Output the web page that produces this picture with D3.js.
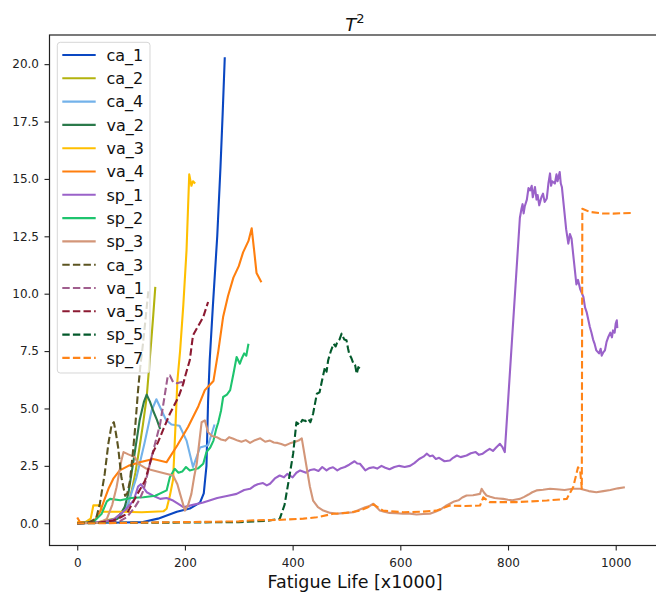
<!DOCTYPE html>
<html>
<head>
<meta charset="utf-8">
<script src="https://cdn.jsdelivr.net/npm/d3@7"></script>
<style>
  body { margin: 0; background: #ffffff; }
  svg { display: block; font-family: 'DejaVu Sans', sans-serif; }
</style>
</head>
<body>
<svg id="chart" width="656" height="598"></svg>
<script>
// Series values: [fatigue life (x1000), T^2]
const ca_1 = [[0,0],[85,0.03],[122,0.05],[150,0.2],[185,0.5],[209,0.64],[228,0.9],[235,1.3],[240,2.5],[243,5.3],[246,7.1],[252,9.5],[260,12.5],[266,15.5],[270,17.8],[274,20.3]];
const ca_2 = [[0,0.02],[40,0.05],[70,0.2],[85,0.5],[92,0.6],[101,1.4],[108,2.2],[115,3.2],[122,4.3],[129,5.5],[137,7.8],[141,9.0],[145,10.3]];
const ca_4 = [[0,0],[60,0.05],[80,0.3],[95,0.9],[110,2.0],[125,3.5],[138,4.9],[147,5.4],[155,5.0],[165,4.5],[175,4.3],[190,4.25],[203,3.6],[215,2.45],[228,3.3],[243,3.4],[255,4.3]];
const va_2 = [[0,0],[50,0.02],[75,0.2],[88,0.7],[95,1.3],[105,2.8],[116,4.5],[124,5.3],[129,5.6],[135,5.3],[141,4.9],[148,4.5],[154,4.1]];
const va_3 = [[0,0.05],[15,0.05],[25,0.2],[30,0.78],[42,0.78],[48,0.5],[80,0.5],[120,0.48],[160,0.52],[166,0.63],[172,1.2],[178,1.9],[182,4.0],[186,6.2],[191,7.5],[197,9.5],[203,11.9],[208,15.2],[212,14.7],[215,14.9],[219,14.8]];
const va_4 = [[0,0.25],[5,0.05],[30,0.05],[42,0.48],[50,1.0],[58,1.5],[67,1.94],[79,2.3],[95,2.5],[116,2.66],[141,2.8],[166,2.66],[186,3.4],[206,4.2],[225,5.1],[237,5.8],[253,6.2],[262,7.5],[271,9.0],[280,9.9],[290,10.7],[300,11.2],[308,11.8],[318,12.3],[324,12.85],[328,12.0],[333,10.9],[342,10.5]];
const sp_1 = [[0,0],[50,0.05],[70,0.2],[90,0.6],[105,1.0],[113,1.6],[118,1.7],[129,1.35],[141,1.2],[154,1.06],[166,1.1],[178,0.99],[187,0.85],[197,0.7],[215,0.8],[234,0.9],[260,1.1],[280,1.2],[296,1.28],[310,1.45],[321,1.5],[328,1.62],[335,1.7],[345,1.75],[352,1.65],[358,1.72],[367,1.95],[376,2.08],[384,2.0],[390,2.15],[400,2.0],[407,2.2],[414,2.3],[425,2.2],[433,2.32],[440,2.35],[448,2.28],[455,2.45],[463,2.3],[469,2.4],[475,2.44],[483,2.3],[490,2.4],[497,2.45],[505,2.55],[515,2.7],[520,2.6],[525,2.59],[530,2.45],[535,2.3],[542,2.4],[550,2.44],[557,2.38],[565,2.5],[572,2.42],[580,2.35],[589,2.45],[598,2.5],[608,2.45],[618,2.5],[626,2.62],[635,2.8],[643,2.9],[649,3.03],[655,2.92],[660,2.95],[666,2.8],[672,2.85],[682,2.7],[692,2.73],[698,2.85],[705,2.95],[712,2.88],[723,2.95],[731,3.05],[740,3.1],[746,2.98],[753,3.03],[760,3.15],[766,3.24],[772,3.15],[778,3.3],[785,3.46],[790,3.3],[794,3.1],[822,13.3],[825,13.7],[827,13.9],[829,13.5],[831,13.8],[835,14.1],[838,14.6],[841,14.5],[844,14.7],[846,14.2],[850,14.65],[853,14.1],[855,14.3],[858,13.85],[862,14.2],[865,14.36],[868,14.0],[872,14.15],[875,14.8],[878,15.24],[880,14.7],[882,14.9],[887,14.8],[890,15.2],[892,14.9],[896,15.3],[898,14.8],[900,14.65],[905,13.5],[908,12.8],[912,12.18],[915,12.6],[918,12.4],[922,11.5],[927,10.4],[930,10.6],[934,10.2],[940,9.86],[943,9.4],[946,9.2],[952,8.55],[955,8.3],[958,8.0],[961,7.8],[964,7.53],[969,7.4],[972,7.6],[974,7.3],[977,7.45],[980,7.53],[983,7.9],[986,8.1],[990,8.3],[993,8.1],[995,8.4],[998,8.3],[1000,8.7],[1002,8.84],[1003,8.5]];
const sp_2 = [[0,0],[30,0.05],[45,0.4],[55,0.95],[61,1.06],[80,1.0],[100,1.1],[123,1.13],[145,1.2],[166,1.43],[172,2.0],[181,2.37],[188,2.2],[195,2.25],[202,2.45],[209,2.3],[217,2.35],[225,2.4],[234,2.59],[240,3.1],[247,3.3],[253,3.6],[258,4.1],[262,4.4],[267,4.9],[271,5.5],[278,5.6],[284,5.8],[290,6.5],[296,7.24],[302,6.95],[306,7.2],[310,7.4],[314,7.3],[318,7.82]];
const sp_3 = [[0,0],[40,0.02],[55,0.19],[65,0.8],[73,1.57],[82,2.73],[86,3.1],[95,3.0],[107,2.88],[113,2.6],[129,2.37],[154,2.22],[178,2.08],[186,1.7],[191,1.28],[200,0.55],[206,0.8],[212,1.28],[217,2.0],[222,2.6],[231,4.4],[237,4.48],[243,3.97],[250,3.8],[259,3.75],[267,3.65],[275,3.6],[282,3.75],[290,3.68],[298,3.6],[305,3.55],[313,3.62],[321,3.5],[330,3.62],[340,3.7],[349,3.55],[358,3.6],[365,3.52],[372,3.5],[379,3.45],[386,3.39],[395,3.48],[405,3.55],[411,3.6],[417,3.7],[426,2.44],[432,1.6],[438,0.99],[447,0.7],[457,0.55],[470,0.45],[482,0.41],[497,0.45],[513,0.48],[525,0.6],[535,0.7],[543,0.75],[550,0.85],[556,0.7],[562,0.55],[570,0.5],[580,0.45],[592,0.44],[605,0.41],[618,0.42],[630,0.38],[643,0.4],[655,0.41],[665,0.5],[675,0.6],[684,0.75],[692,0.85],[700,0.95],[708,1.0],[715,1.12],[723,1.21],[735,1.22],[748,1.28],[751,1.5],[755,1.35],[760,1.21],[767,1.15],[775,1.1],[783,1.08],[791,1.06],[800,1.02],[808,1.0],[815,1.03],[822,1.06],[830,1.15],[838,1.25],[845,1.35],[853,1.43],[865,1.46],[878,1.5],[890,1.48],[905,1.45],[920,1.5],[934,1.5],[950,1.4],[964,1.35],[977,1.4],[990,1.45],[1004,1.52],[1017,1.57]];
const ca_3 = [[0,0],[20,0.02],[35,0.2],[42,0.85],[51,2.15],[58,3.5],[64,4.3],[68,4.4],[72,3.9],[76,3.3],[82,2.0],[89,1.2],[93,1.3],[98,1.86],[103,3.0],[107,4.0],[110,4.9],[113,5.8],[117,6.8],[122,7.8],[126,8.7],[132,10.1]];
const va_1 = [[0,0],[50,0.02],[80,0.1],[92,0.26],[107,0.7],[115,1.0],[123,1.43],[130,2.1],[138,2.88],[146,3.6],[154,4.33],[162,5.5],[168,6.4],[172,6.44],[178,6.15],[185,6.1],[194,6.15],[200,6.05]];
const va_5 = [[0,0],[40,0.03],[67,0.12],[80,0.25],[92,0.41],[110,1.2],[126,1.86],[141,3.1],[150,3.53],[160,4.1],[172,4.77],[188,5.5],[197,6.08],[200,6.37],[209,7.1],[215,8.19],[222,8.48],[234,8.98],[243,9.64]];
const sp_5 = [[0,0],[100,0.02],[200,0.03],[300,0.05],[350,0.1],[376,0.19],[385,0.8],[393,1.9],[401,3.03],[407,4.4],[413,4.3],[418,4.5],[424,4.45],[429,4.55],[433,4.4],[438,4.77],[445,5.64],[450,5.7],[454,6.15],[460,6.8],[463,6.6],[466,7.1],[471,7.5],[476,7.82],[480,7.7],[483,7.9],[487,8.0],[491,8.26],[496,8.0],[500,7.97],[503,7.6],[505,7.39],[509,7.2],[513,6.95],[516,6.9],[519,6.51],[522,6.8],[525,6.73]];
const sp_7 = [[0,0],[50,0],[100,0.02],[200,0.05],[300,0.08],[321,0.12],[380,0.15],[420,0.2],[445,0.26],[475,0.41],[500,0.45],[525,0.55],[540,0.7],[550,0.82],[568,0.55],[605,0.48],[640,0.5],[667,0.55],[692,0.77],[720,0.75],[748,0.77],[754,1.13],[766,0.92],[816,0.92],[872,0.99],[909,1.06],[921,1.57],[930,2.44],[934,2.3],[937,1.5],[938,13.7],[952,13.56],[975,13.5],[995,13.49],[1030,13.52]];

const seriesNames = ['ca_1','ca_2','ca_4','va_2','va_3','va_4','sp_1','sp_2','sp_3','ca_3','va_1','va_5','sp_5','sp_7'];
const seriesData = [ca_1, ca_2, ca_4, va_2, va_3, va_4, sp_1, sp_2, sp_3, ca_3, va_1, va_5, sp_5, sp_7];
const seriesColors = ['#0a47c2','#b3b30e','#73b2ea','#2b7a4b','#ffbf00','#ff7f0e','#9a62c9','#1ec46e','#d39679','#5c5421','#a05e8e','#8c1a32','#03592b','#ff8418'];
const seriesDashed = [false,false,false,false,false,false,false,false,false,true,true,true,true,true];

const xTicks = [0, 200, 400, 600, 800, 1000];
const yTicks = [0, 2.5, 5, 7.5, 10, 12.5, 15, 17.5, 20];

// layout
const plot = { left: 49.5, top: 35, right: 659.6, bottom: 545.5 };

const svg = d3.select('#chart');

const xScale = d3.scaleLinear().domain([-51.5, 1081.5]).range([plot.left, plot.right]);
const yScale = d3.scaleLinear().domain([-0.97, 21.27]).range([plot.bottom, plot.top]);

svg.append('defs').append('clipPath')
    .attr('id', 'plot-clip')
  .append('rect')
    .attr('x', plot.left)
    .attr('y', plot.top)
    .attr('width', plot.right - plot.left)
    .attr('height', plot.bottom - plot.top);

// series lines
const line = d3.line()
    .x(d => xScale(d[0]))
    .y(d => yScale(d[1]));

const lineGroup = svg.append('g').attr('clip-path', 'url(#plot-clip)');
seriesData.forEach((data, i) => {
    lineGroup.append('path')
        .attr('d', line(data))
        .attr('fill', 'none')
        .attr('stroke', seriesColors[i])
        .attr('stroke-width', 2.1)
        .attr('stroke-linejoin', 'round')
        .attr('stroke-dasharray', seriesDashed[i] ? '7.4,3.2' : null);
});

// frame
svg.append('rect')
    .attr('x', plot.left)
    .attr('y', plot.top)
    .attr('width', plot.right - plot.left)
    .attr('height', plot.bottom - plot.top)
    .attr('fill', 'none')
    .attr('stroke', '#222')
    .attr('stroke-width', 1.2);

// axes
const xAxis = svg.append('g')
    .attr('transform', `translate(0,${plot.bottom})`)
    .call(d3.axisBottom(xScale).tickValues(xTicks).tickSize(5).tickPadding(7.5).tickFormat(d3.format('d')));
const yAxis = svg.append('g')
    .attr('transform', `translate(${plot.left},0)`)
    .call(d3.axisLeft(yScale).tickValues(yTicks).tickSize(5).tickPadding(5.5).tickFormat(d3.format('.1f')));

[xAxis, yAxis].forEach(ax => {
    ax.select('.domain').remove();
    ax.selectAll('.tick line').attr('stroke', '#222').attr('stroke-width', 1.1);
    ax.selectAll('.tick text')
        .attr('fill', '#222')
        .style('font-family', "'DejaVu Sans', sans-serif")
        .style('font-size', '12px');
});

// title and axis label
const title = svg.append('text')
    .attr('x', 355)
    .attr('y', 31)
    .attr('text-anchor', 'middle')
    .attr('fill', '#111')
    .style('font-size', '18px');
title.append('tspan').style('font-style', 'italic').text('T');
title.append('tspan').attr('dy', -8).style('font-size', '13px').text('2');

svg.append('text')
    .attr('x', 355)
    .attr('y', 588)
    .attr('text-anchor', 'middle')
    .attr('fill', '#111')
    .style('font-size', '17.5px')
    .text('Fatigue Life [x1000]');

// legend
const legend = svg.append('g');
legend.append('rect')
    .attr('x', 57.3)
    .attr('y', 42.3)
    .attr('width', 92.7)
    .attr('height', 330.7)
    .attr('rx', 3)
    .attr('fill', '#ffffff')
    .attr('fill-opacity', 0.8)
    .attr('stroke', '#cccccc')
    .attr('stroke-opacity', 0.8);

seriesNames.forEach((name, i) => {
    const y = 55 + i * 23.3;
    legend.append('line')
        .attr('x1', 62.3)
        .attr('x2', 95.7)
        .attr('y1', y)
        .attr('y2', y)
        .attr('stroke', seriesColors[i])
        .attr('stroke-width', 2.1)
        .attr('stroke-dasharray', seriesDashed[i] ? '7.4,3.2' : null);
    legend.append('text')
        .attr('x', 106.5)
        .attr('y', y + 5.8)
        .attr('fill', '#111')
        .style('font-size', '16px')
        .text(name);
});
</script>
</body>
</html>
